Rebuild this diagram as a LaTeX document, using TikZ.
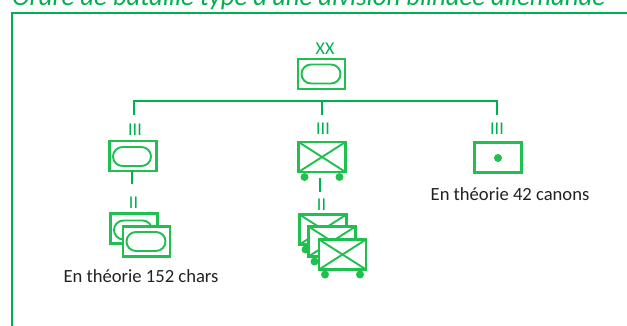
\documentclass[tikz,border=0pt]{standalone}
\usepackage{fontspec}
\setmainfont{Carlito}
\definecolor{framegreen}{HTML}{00B050}
\definecolor{symgreen}{HTML}{1FC04F}
\definecolor{labelgreen}{HTML}{00B050}
\definecolor{capgray}{HTML}{222222}
\tikzset{
  unitbox/.style={draw=symgreen,line width=2.3pt,fill=white,minimum width=47pt,minimum height=30pt,inner sep=0pt,outer sep=0pt},
  ovalbox/.style={draw=symgreen,line width=1.9pt,rounded corners=9.5pt,minimum width=38pt,minimum height=19pt,inner sep=0pt},
  wheeldot/.style={circle,fill=symgreen,minimum size=8pt,inner sep=0pt},
  ranklabel/.style={text=labelgreen,font=\fontsize{18}{18}\selectfont,inner sep=0pt},
  captext/.style={text=capgray,font=\fontsize{18.6}{20}\selectfont,inner sep=0pt},
  linkline/.style={draw=framegreen,line width=1.8pt},
  xmark/.style={draw=symgreen,line width=1.9pt}
}
\newcommand{\infbox}[3]{%
  \node[wheeldot] (#1l) at (#2-17.5,#3+20) {};
  \node[wheeldot] (#1r) at (#2+17.5,#3+20) {};
  \node[unitbox] (#1) at (#2,#3) {};
  \draw[xmark] (#1.north west) -- (#1.south east);
  \draw[xmark] (#1.south west) -- (#1.north east);
}
\begin{document}
\begin{tikzpicture}[x=1pt,y=-1pt]
\useasboundingbox (0,0) rectangle (627,325);
\fill[white] (0,0) rectangle (627,325);
% title and frame
\node[text=framegreen,font=\fontsize{26.7}{28}\selectfont\itshape,anchor=base west,inner sep=0pt] (title) at (12,5) {Ordre de bataille type d'une division blindée allemande};
\coordinate (fbl) at (12,330);
\coordinate (ftl) at (12,13);
\coordinate (ftr) at (632,13);
\draw[linkline] (fbl) -- (ftl) -- (ftr);
% division
\node[ranklabel] (rxx) at (325,49) {XX};
\node[unitbox] (div) at (321.5,74) {};
\node[ovalbox,minimum width=39pt] (divo) at (321,74) {};
% bus
\coordinate (bl) at (134,101);
\coordinate (bm) at (322,101);
\coordinate (br) at (497,101);
\coordinate (dl) at (134,115);
\coordinate (dm) at (322,115);
\coordinate (dr) at (497,115);
\draw[linkline] (dl) -- (bl) -- (br) -- (dr);
\draw[linkline] (bm) -- (dm);
% left column
\node[ranklabel] (r1) at (135,130) {III};
\node[unitbox] (a) at (133,156) {};
\node[ovalbox] (ao) at (132,156.5) {};
\coordinate (a1) at (132,184);
\draw[linkline] (a1 |- a.south) -- (a1);
\node[ranklabel] (r2) at (133.5,203) {II};
\node[unitbox] (b1) at (134,228.5) {};
\node[ovalbox] (b1o) at (133,230) {};
\node[unitbox] (b2) at (146.5,241.5) {};
\node[ovalbox,minimum width=39pt] (b2o) at (146,241.5) {};
\node[captext] (c1) at (141,276) {En théorie 152 chars};
% middle column
\node[ranklabel] (r3) at (323,129) {III};
\infbox{m}{322}{157}
\coordinate (m1) at (320,178);
\coordinate (m2) at (320,192);
\draw[linkline] (m1) -- (m2);
\node[ranklabel] (r4) at (321.5,205) {II};
\infbox{sa}{323}{229.5}
\infbox{sb}{332}{241.5}
\infbox{sc}{342.5}{254.5}
% right column
\node[ranklabel] (r5) at (497,129) {III};
\node[unitbox] (g) at (498,157.5) {};
\node[wheeldot] (gd) at (498,158) {};
\node[captext] (c2) at (510,194) {En théorie 42 canons};
\end{tikzpicture}
\end{document}
